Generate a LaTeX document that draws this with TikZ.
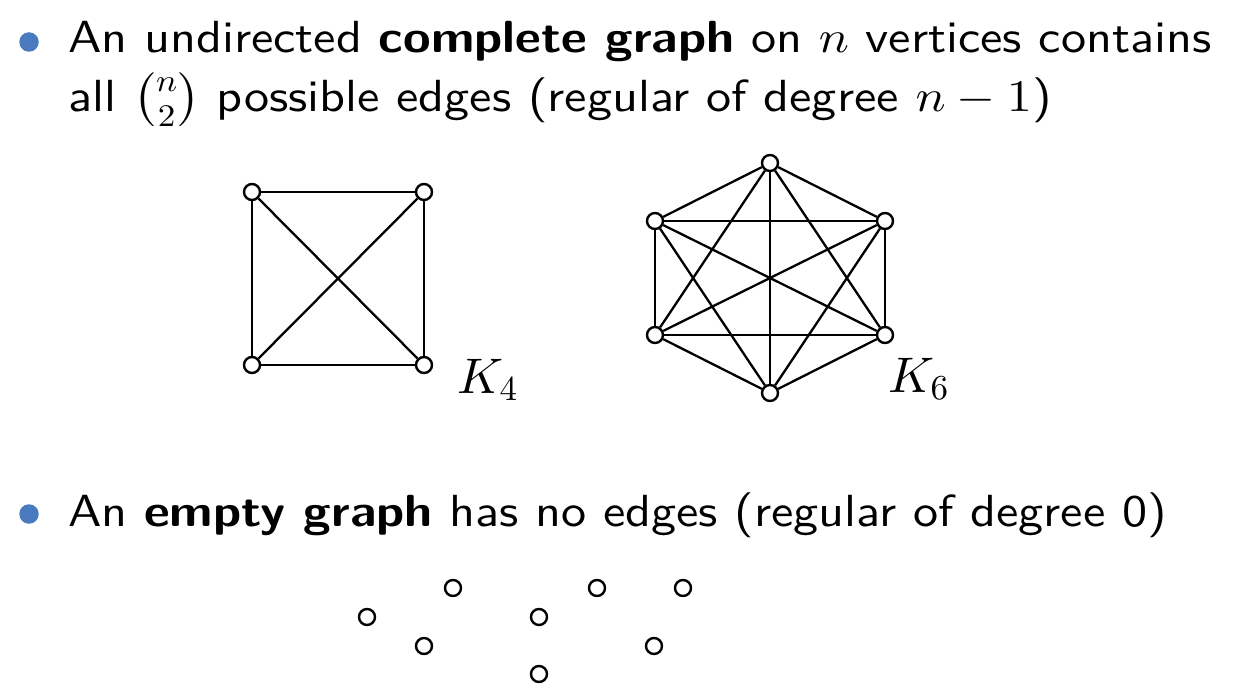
\documentclass[tikz,border=0pt]{standalone}
\usepackage{amsmath}
\usepackage{fontspec}
\setsansfont{lmsans10-regular.otf}[BoldFont=lmsans10-bold.otf]
\DeclareFontShape{OT1}{cmr}{m}{n}{<->cmr10}{}
\DeclareFontShape{OML}{cmm}{m}{it}{<->cmmi10}{}
\DeclareFontShape{OMS}{cmsy}{m}{n}{<->cmsy10}{}
\DeclareFontShape{OMX}{cmex}{m}{n}{<->cmex10}{}
\newcommand\xwide[1]{\scalebox{1.115}[1]{#1}}
\definecolor{bulletblue}{RGB}{74,122,192}
\begin{document}
\begin{tikzpicture}[x=1pt,y=-1pt,
  vtx/.style={circle,draw=black,fill=white,line width=2.4pt,minimum size=16pt,inner sep=0pt},
  edge/.style={line width=2.3pt,black},
  txt/.style={anchor=base west,inner sep=0pt,font=\fontsize{45}{54}\selectfont\sffamily},
  bul/.style={circle,fill=bulletblue,minimum size=19.5pt,inner sep=0pt},
  lbl/.style={anchor=base west,inner sep=0pt,font=\fontsize{50}{60}\selectfont}]
\useasboundingbox[fill=white] (0,0) rectangle (1243,693);

% text
\node[bul] (b1) at (29,42) {};
\node[txt] (l1) at (68,53) {\xwide{An undirected \textbf{complete graph} on $n$ vertices contains}};
\node[txt] (l2) at (68,111) {\xwide{all $\binom{n}{2}$ possible edges (regular of degree $n-1$)}};
\node[bul] (b2) at (29,514) {};
\node[txt] (l3) at (68,526) {\xwide{An \textbf{empty graph} has no edges (regular of degree 0)}};

% K4
\node[vtx] (a) at (252,192) {};
\node[vtx] (b) at (424,192) {};
\node[vtx] (c) at (252,365) {};
\node[vtx] (d) at (424,365) {};
\foreach \u/\v in {a/b,a/c,a/d,b/c,b/d,c/d} \draw[edge] (\u) -- (\v);
\node[lbl] (k4) at (457,393) {$K_4$};

% K6
\node[vtx] (t) at (770,163) {};
\node[vtx] (ul) at (655,221) {};
\node[vtx] (ur) at (885,221) {};
\node[vtx] (ll) at (655,335) {};
\node[vtx] (lr) at (885,335) {};
\node[vtx] (bo) at (770,393) {};
\foreach \u/\v in {t/ul,t/ur,t/ll,t/lr,t/bo,ul/ur,ul/ll,ul/lr,ul/bo,ur/ll,ur/lr,ur/bo,ll/lr,ll/bo,lr/bo}
  \draw[edge] (\u) -- (\v);
\node[lbl] (k6) at (888,392) {$K_6$};

% empty graph
\node[vtx] (e1) at (453,588) {};
\node[vtx] (e2) at (367,617) {};
\node[vtx] (e3) at (424,646) {};
\node[vtx] (e4) at (539,617) {};
\node[vtx] (e5) at (539,674) {};
\node[vtx] (e6) at (597,588) {};
\node[vtx] (e7) at (683,588) {};
\node[vtx] (e8) at (654,646) {};
\end{tikzpicture}
\end{document}
